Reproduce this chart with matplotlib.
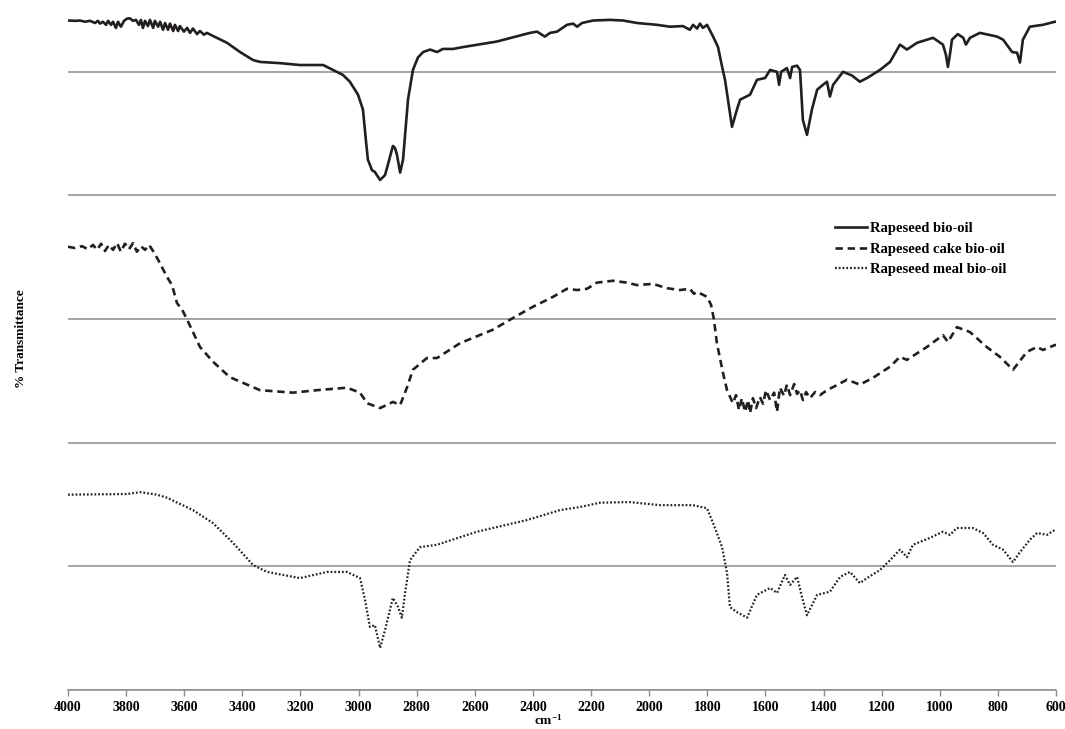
import numpy as np
import matplotlib
matplotlib.use('Agg')
import matplotlib.pyplot as plt
import matplotlib.ticker as mticker

plt.rcParams['font.family'] = ['Liberation Serif', 'DejaVu Serif']
plt.rcParams['font.weight'] = 'bold'
plt.rcParams['mathtext.fontset'] = 'custom'
plt.rcParams['mathtext.rm'] = 'Liberation Serif:bold'
plt.rcParams['mathtext.default'] = 'rm'

# spectra: wavenumber (cm-1) and stacked % transmittance
wn_oil = [4000, 3976, 3959, 3941, 3924, 3907, 3897, 3890, 3880, 3869, 3862, 3852, 3845,
          3835, 3828, 3818, 3807, 3797, 3787, 3776, 3766, 3756, 3749, 3742, 3735, 3725,
          3718, 3707, 3701, 3690, 3683, 3673, 3666, 3656, 3649, 3638, 3632, 3621, 3615,
          3601, 3590, 3580, 3570, 3556, 3546, 3532, 3522, 3501, 3453, 3408, 3363, 3339,
          3270, 3202, 3122, 3088, 3054, 3030, 3002, 2985, 2975, 2968, 2954, 2944, 2926,
          2909, 2899, 2882, 2875, 2868, 2857, 2847, 2830, 2813, 2796, 2778, 2754, 2730,
          2710, 2675, 2641, 2524, 2410, 2386, 2359, 2341, 2317, 2283, 2262, 2248, 2231,
          2193, 2135, 2090, 2042, 1973, 1928, 1884, 1860, 1849, 1835, 1825, 1815, 1801,
          1780, 1763, 1749, 1739, 1729, 1715, 1698, 1687, 1653, 1629, 1601, 1584, 1560,
          1553, 1546, 1526, 1515, 1508, 1491, 1481, 1471, 1457, 1440, 1422, 1402, 1388,
          1378, 1367, 1333, 1302, 1275, 1250, 1206, 1171, 1137, 1113, 1078, 1023, 989,
          979, 972, 965, 958, 938, 919, 910, 896, 862, 803, 782, 751, 734, 724, 714, 690,
          645, 604, 600]
t_oil = [108.3, 108.25, 108.3, 108.1, 108.25, 107.9, 108.25, 107.8, 108.1, 107.6, 108.25,
         107.6, 108.1, 107.1, 108.1, 107.3, 108.25, 108.6, 108.65, 108.25, 108.4, 107.6,
         108.4, 107.1, 108.25, 107.4, 108.4, 107.1, 108.25, 107.3, 108.1, 106.8, 107.9,
         106.8, 107.8, 106.6, 107.6, 106.6, 107.4, 106.5, 107.1, 106.3, 107.0, 106.1,
         106.6, 106.0, 106.3, 105.8, 104.7, 103.2, 101.9, 101.6, 101.4, 101.1, 101.1,
         100.3, 99.5, 98.4, 96.3, 93.9, 89.0, 85.8, 84.1, 83.8, 82.5, 83.3, 85.0, 88.0,
         87.7, 86.6, 83.7, 85.8, 95.5, 100.3, 102.3, 103.2, 103.6, 103.2, 103.7, 103.7,
         104.0, 104.9, 106.3, 106.5, 105.7, 106.3, 106.5, 107.6, 107.8, 107.3, 107.9,
         108.3, 108.4, 108.3, 107.9, 107.6, 107.3, 107.4, 106.8, 107.6, 107.0, 107.8,
         107.1, 107.6, 105.7, 104.0, 100.8, 98.7, 95.5, 91.1, 93.9, 95.5, 96.3, 98.7,
         99.0, 100.3, 100.0, 97.9, 100.0, 100.6, 99.0, 100.8, 101.0, 100.3, 92.2, 89.8,
         93.9, 97.1, 97.9, 98.4, 96.0, 97.9, 100.0, 99.4, 98.4, 99.0, 100.3, 101.6, 104.4,
         103.6, 104.7, 105.5, 104.4, 102.8, 100.8, 102.8, 105.2, 106.1, 105.5, 104.4,
         105.5, 106.3, 105.7, 105.2, 103.2, 103.1, 101.5, 105.2, 107.3, 107.6, 108.1, 108.1]

wn_cake = [4000, 3976, 3952, 3931, 3914, 3900, 3886, 3873, 3859, 3845, 3831, 3818, 3804,
           3790, 3776, 3763, 3749, 3735, 3721, 3707, 3690, 3659, 3642, 3625, 3607, 3590,
           3546, 3501, 3443, 3339, 3226, 3143, 3040, 2995, 2971, 2926, 2882, 2857, 2833,
           2813, 2765, 2730, 2651, 2537, 2479, 2400, 2365, 2331, 2283, 2248, 2214, 2180,
           2125, 2076, 2042, 1987, 1939, 1894, 1860, 1846, 1835, 1801, 1787, 1777, 1767,
           1746, 1732, 1712, 1701, 1691, 1681, 1670, 1660, 1653, 1643, 1632, 1619, 1608,
           1598, 1584, 1570, 1560, 1550, 1536, 1526, 1515, 1501, 1491, 1481, 1471, 1460,
           1447, 1429, 1412, 1388, 1367, 1319, 1275, 1230, 1171, 1137, 1113, 1044, 989,
           972, 941, 896, 839, 793, 748, 700, 665, 645, 604, 600]
t_cake = [71.7, 71.5, 71.8, 71.3, 72.0, 71.2, 72.2, 71.0, 72.0, 71.2, 72.3, 70.9, 72.2,
          71.3, 72.3, 70.9, 71.8, 71.2, 72.0, 71.0, 69.6, 66.8, 65.5, 62.6, 61.5, 59.9,
          55.5, 53.1, 50.6, 48.5, 48.1, 48.5, 48.9, 48.1, 46.4, 45.6, 46.6, 46.1, 49.0,
          51.8, 53.7, 53.7, 56.1, 58.3, 59.9, 62.0, 62.8, 63.6, 64.9, 64.7, 64.9, 65.9,
          66.2, 65.9, 65.5, 65.7, 65.0, 64.7, 64.9, 64.1, 64.4, 63.6, 62.3, 59.9, 56.1,
          51.3, 48.5, 46.4, 47.7, 45.3, 47.2, 45.0, 46.9, 44.8, 47.2, 45.6, 47.4, 46.3,
          48.5, 46.9, 48.1, 45.0, 48.9, 47.6, 49.4, 47.7, 49.5, 47.9, 48.5, 46.9, 48.2,
          47.2, 48.2, 47.7, 48.5, 49.0, 50.2, 49.4, 50.5, 52.3, 53.9, 53.4, 55.5, 57.4,
          56.3, 58.7, 57.9, 55.5, 53.9, 51.8, 54.7, 55.5, 55.0, 55.8, 55.8]

wn_meal = [4000, 3797, 3752, 3694, 3659, 3570, 3501, 3432, 3363, 3315, 3202, 3109, 3040,
           2995, 2978, 2961, 2944, 2926, 2909, 2882, 2864, 2851, 2840, 2823, 2789, 2730,
           2593, 2420, 2307, 2238, 2169, 2066, 1963, 1849, 1801, 1780, 1749, 1732, 1722,
           1698, 1663, 1629, 1584, 1560, 1533, 1515, 1491, 1474, 1457, 1422, 1378, 1343,
           1309, 1275, 1250, 1206, 1171, 1137, 1113, 1092, 1034, 989, 965, 941, 886, 851,
           817, 782, 748, 724, 690, 665, 631, 604, 600]
t_meal = [31.6, 31.7, 32.0, 31.6, 31.1, 29.1, 27.0, 23.8, 20.2, 19.1, 18.1, 19.1, 19.1,
          18.1, 14.6, 10.2, 10.5, 6.8, 9.7, 14.9, 13.4, 11.7, 15.7, 21.0, 23.1, 23.5,
          25.6, 27.5, 29.1, 29.6, 30.3, 30.4, 29.9, 29.9, 29.4, 27.0, 23.1, 18.9, 13.4,
          12.6, 11.7, 15.4, 16.5, 15.7, 18.6, 17.0, 18.3, 15.0, 12.1, 15.4, 15.9, 18.3,
          19.1, 17.3, 18.1, 19.4, 21.0, 22.7, 21.5, 23.5, 24.6, 25.6, 25.1, 26.2, 26.2,
          25.4, 23.5, 22.7, 20.7, 22.3, 24.3, 25.4, 25.1, 25.9, 25.9]

labels = ['Rapeseed bio-oil', 'Rapeseed cake bio-oil', 'Rapeseed meal bio-oil']

fig = plt.figure(figsize=(10.65, 7.29), dpi=100)
ax = fig.add_axes([68 / 1065, 39 / 729, 988 / 1065, 680 / 729])

line_col = '#231f20'
grid_col = '#8c8c8c'

ax.plot(wn_oil, t_oil, color=line_col, lw=1.9, label=labels[0])
ax.plot(wn_cake, t_cake, color=line_col, lw=1.9, linestyle=(0, (2.8, 1.8)), label=labels[1])
ax.plot(wn_meal, t_meal, color=line_col, lw=1.6, linestyle=(0, (0.8, 0.9)), label=labels[2])

ax.set_xlim(4000, 600)
ax.set_ylim(0, 110)
ax.xaxis.set_major_locator(mticker.MultipleLocator(200))
ax.yaxis.set_major_locator(mticker.MultipleLocator(20))
ax.grid(True, axis='y', color=grid_col, lw=1.1)
ax.set_axisbelow(True)
for s in ['top', 'right', 'left']:
    ax.spines[s].set_visible(False)
ax.spines['bottom'].set_color(grid_col)
ax.spines['bottom'].set_linewidth(1.1)
ax.tick_params(axis='x', length=4, color=grid_col, width=1, pad=4, labelsize=10)
ax.tick_params(axis='y', left=False, labelleft=False)
for lab in ax.get_xticklabels():
    lab.set_fontweight('bold')

ax.set_xlabel('cm$^{-1}$', fontsize=9.5, fontweight='bold')
ax.xaxis.set_label_coords(0.486, -0.034)
ax.set_ylabel('% Transmittance', fontsize=9.5, fontweight='bold')
ax.yaxis.set_label_coords(-0.042, 0.516)

ax.legend(loc='upper left', bbox_to_anchor=(0.776, 0.688), frameon=False,
          prop={'size': 10.5, 'weight': 'bold'}, handlelength=2.2, handletextpad=0.2,
          labelspacing=0.5, borderpad=0, borderaxespad=0)

fig.savefig('out.png', dpi=100)
